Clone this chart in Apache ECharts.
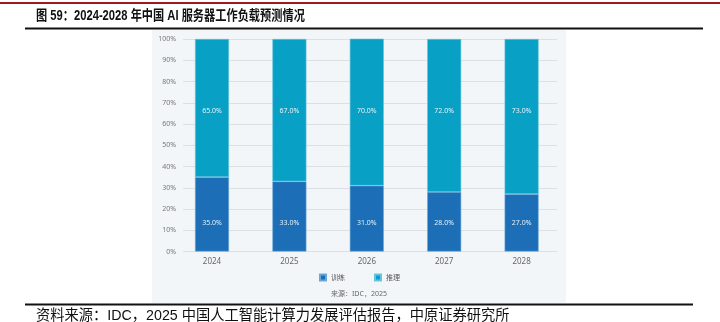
<!DOCTYPE html>
<html>
<head>
<meta charset="utf-8">
<script src="https://cdn.jsdelivr.net/npm/echarts@6/dist/echarts.min.js"></script>
<style>
  html, body { margin: 0; padding: 0; background: #fff; }
  #chart { width: 720px; height: 322px; }
</style>
</head>
<body>
<div id="chart"></div>
<script>
// AI server workload split in China, 2024-2028 (share of training vs inference)
const years = ['2024', '2025', '2026', '2027', '2028'];
const training = [35.0, 33.0, 31.0, 28.0, 27.0];
const inference = [65.0, 67.0, 70.0, 72.0, 73.0];
const yTicks = [0, 10, 20, 30, 40, 50, 60, 70, 80, 90, 100];
const seriesNames = ['训练', '推理'];

const titleText = '图 59：2024-2028 年中国 AI 服务器工作负载预测情况';
const sourceText = '资料来源：IDC，2025 中国人工智能计算力发展评估报告，中原证券研究所';
const innerSource = '来源：IDC，2025';

const cjk = '"Liberation Sans", "Noto Sans CJK SC", sans-serif';
const inner = '"Noto Sans", "Noto Sans CJK SC", sans-serif';

const chart = echarts.init(document.getElementById('chart'), null, { renderer: 'canvas' });

const pctLabel = (pos, dist) => ({
  show: true,
  position: pos,
  distance: dist,
  color: '#e3f2f9',
  fontSize: 7,
  fontFamily: inner,
  formatter: p => p.value.toFixed(1) + '%'
});

chart.setOption({
  animation: false,
  backgroundColor: '#ffffff',
  graphic: [
    // panel behind the plot
    { type: 'rect', z: -10, shape: { x: 152, y: 30, width: 414, height: 273 }, style: { fill: '#f3f6f9' } },
    // header and footer rules
    { type: 'rect', shape: { x: 0, y: 2, width: 720, height: 2 }, style: { fill: '#a0191f' } },
    { type: 'rect', shape: { x: 25, y: 27.5, width: 678, height: 2 }, style: { fill: '#111' } },
    { type: 'rect', shape: { x: 25, y: 303.5, width: 668, height: 2 }, style: { fill: '#111' } },
    { type: 'text', x: 36, y: 9, scaleX: 0.8, style: { text: titleText, font: 'bold 14px ' + cjk, fill: '#111' } },
    { type: 'text', x: 36, y: 308, scaleX: 0.95, style: { text: sourceText, font: '15px ' + cjk, fill: '#111' } },
    { type: 'text', left: 331, top: 290, style: { text: innerSource, font: '7px ' + inner, fill: '#666' } }
  ],
  legend: {
    data: seriesNames,
    left: 319,
    top: 273.5,
    padding: 0,
    itemWidth: 6,
    itemHeight: 6,
    itemGap: 29,
    icon: 'rect',
    textStyle: { fontSize: 7, color: '#555', fontFamily: inner }
  },
  grid: [
    { left: 183, right: 163, top: 39, bottom: 70.5 },
    { left: 173.3, width: 387, top: 39, bottom: 70.5 }
  ],
  xAxis: [
    { gridIndex: 0, type: 'value', show: false, min: 0, max: 1 },
    {
      gridIndex: 1, type: 'category', data: years,
      axisLine: { show: false }, axisTick: { show: false },
      axisLabel: { color: '#666', fontSize: 8, fontFamily: inner, margin: 6 }
    }
  ],
  yAxis: [
    {
      gridIndex: 0, type: 'value', min: yTicks[0], max: yTicks[yTicks.length - 1], interval: 10,
      axisLine: { show: false }, axisTick: { show: false },
      axisLabel: { color: '#777', fontSize: 7, fontFamily: inner, margin: 7, formatter: v => v + '%' },
      splitLine: { lineStyle: { color: '#dcdfe3', width: 1 } }
    },
    { gridIndex: 1, type: 'value', min: 0, max: 100, show: false, splitLine: { show: false } }
  ],
  series: [
    {
      name: seriesNames[0], type: 'bar', stack: 'share', xAxisIndex: 1, yAxisIndex: 1,
      data: training, barWidth: 34,
      itemStyle: { color: '#1c6eb7', borderColor: '#6aa7d6', borderWidth: 0.6 },
      label: pctLabel('insideBottom', 25)
    },
    {
      name: seriesNames[1], type: 'bar', stack: 'share', xAxisIndex: 1, yAxisIndex: 1,
      data: inference, barWidth: 34,
      itemStyle: { color: '#09a0c5', borderColor: '#66c5de', borderWidth: 0.6 },
      label: pctLabel('insideTop', 69)
    }
  ]
});
</script>
</body>
</html>
